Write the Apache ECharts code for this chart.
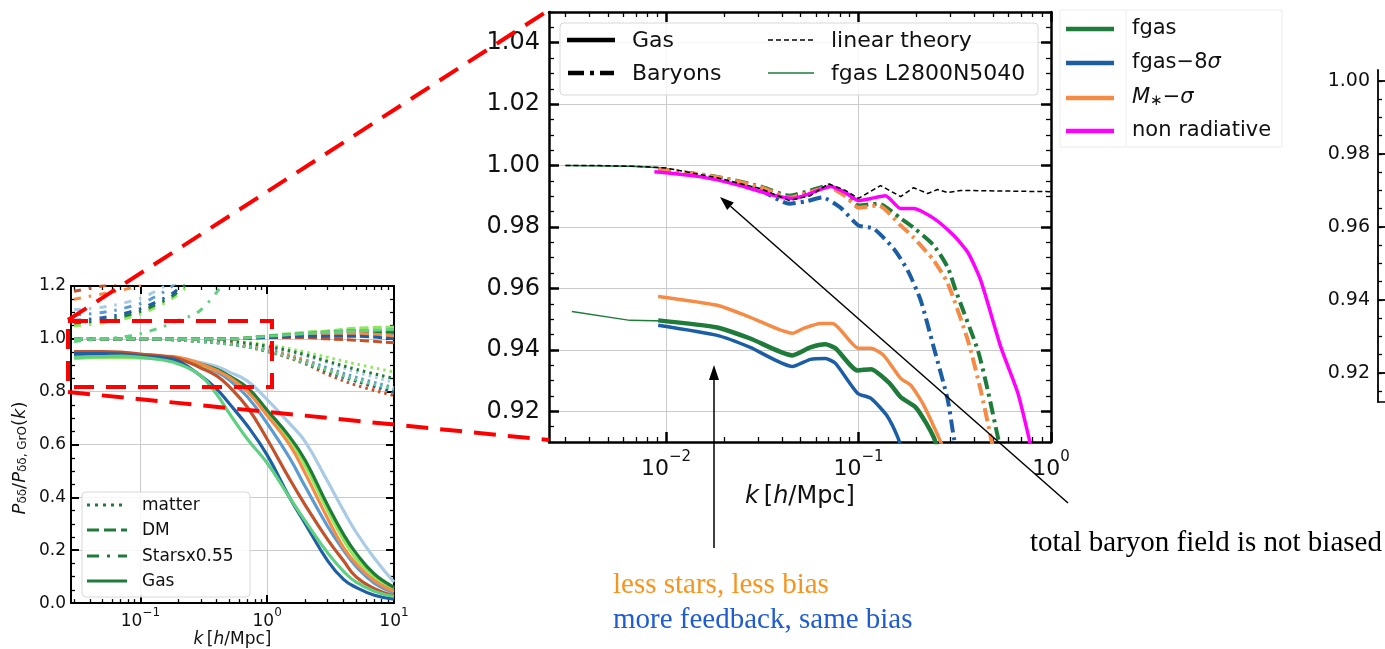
<!DOCTYPE html>
<html><head><meta charset="utf-8">
<script src="https://cdn.jsdelivr.net/npm/echarts@6/dist/echarts.min.js"></script>
<style>html,body{margin:0;padding:0;background:#fff}#c{width:1385px;height:649px}</style>
</head><body><div id="c"></div>
<script>
// ================= DATA =================
// ---- Zoomed panel (middle): ratio vs k [h/Mpc]
const linTheoryK = [0.0030,0.0045,0.0073,0.0100,0.0182,0.0309,0.0438,0.0562,0.0698,0.0855,0.100,0.130,0.1656,0.193,0.2288,0.2575,0.291,0.340,1.0];
const linTheoryV = [1.0000,1.0000,0.9997,0.9992,0.9961,0.9925,0.9886,0.9902,0.9941,0.9919,0.9893,0.9935,0.9899,0.9928,0.9909,0.9922,0.9912,0.9919,0.9915];

const l2800BarK = [0.0030,0.0065,0.0100];
const l2800BarV = [1.0000,0.9998,0.9992];
const l2800GasK = [0.00324,0.00649,0.0100];
const l2800GasV = [0.9525,0.9496,0.9494];

const fgasBarK = [0.0091,0.0182,0.0309,0.0438,0.0562,0.0698,0.0855,0.100,0.127,0.1656,0.193,0.246,0.291,0.320,0.417,0.4695,0.530,0.56];
const fgasBarV = [0.9988,0.9964,0.9932,0.9902,0.9919,0.9935,0.9906,0.9870,0.9876,0.9828,0.9798,0.9740,0.9668,0.9593,0.9398,0.9268,0.9115,0.905];
const mstarBarK = [0.0091,0.0182,0.0309,0.0438,0.0562,0.0698,0.0855,0.100,0.127,0.1656,0.193,0.246,0.291,0.370,0.4315,0.487,0.52];
const mstarBarV = [0.9988,0.9963,0.9930,0.9896,0.9914,0.9930,0.9900,0.9863,0.9870,0.9805,0.9766,0.9691,0.9616,0.9431,0.9268,0.9115,0.903];
const fgas8BarK = [0.0091,0.0182,0.0309,0.04375,0.053,0.0649,0.0806,0.100,0.1197,0.152,0.180,0.2104,0.246,0.291,0.3126,0.33];
const fgas8BarV = [0.9988,0.9961,0.9919,0.9876,0.9883,0.9896,0.9863,0.9805,0.9795,0.9730,0.9659,0.9561,0.9408,0.9236,0.9115,0.905];
const nonradK = [0.0087,0.0150,0.0243,0.0348,0.0458,0.0562,0.0715,0.0855,0.100,0.116,0.138,0.1656,0.193,0.246,0.3126,0.370,0.4315,0.5495,0.673,0.767,0.80];
const nonradV = [0.9980,0.9964,0.9935,0.9906,0.9893,0.9909,0.9932,0.9912,0.9886,0.9893,0.9902,0.9860,0.9860,0.9828,0.9772,0.9717,0.9626,0.9408,0.9259,0.9115,0.906];

const fgasGasK = [0.0091,0.01845,0.02738,0.0453,0.0562,0.0673,0.0759,0.0988,0.116,0.145,0.1656,0.198,0.2235,0.246,0.26];
const fgasGasV = [0.9496,0.9473,0.9437,0.9382,0.9408,0.9418,0.9405,0.9333,0.9337,0.9291,0.9246,0.9213,0.9164,0.9115,0.907];
const mstarGasK = [0.0091,0.01845,0.02738,0.0453,0.0518,0.0634,0.0733,0.100,0.116,0.135,0.1656,0.1867,0.218,0.261,0.28];
const mstarGasV = [0.9574,0.9545,0.9506,0.9454,0.9470,0.9486,0.9486,0.9405,0.9405,0.9382,0.9307,0.9285,0.9220,0.9115,0.907];
const fgas8GasK = [0.0091,0.01845,0.02738,0.0453,0.0562,0.0673,0.0759,0.0988,0.116,0.140,0.160,0.17];
const fgas8GasV = [0.9480,0.9447,0.9408,0.9346,0.9369,0.9372,0.9356,0.9259,0.9242,0.9187,0.9115,0.906];

const mainXTicks = [0.01, 0.1, 1];
const mainXExp = ['\u22122', '\u22121', '0'];
const mainYTicks = [0.92, 0.94, 0.96, 0.98, 1.00, 1.02, 1.04];

// ---- Left overview panel
const leftGasK = [0.03,0.05,0.07,0.1,0.15,0.2,0.3,0.4,0.5,0.7,1.0,1.5,2,3,4,5,7,10];
const gasDarkBlue  = [0.944,0.944,0.942,0.935,0.928,0.915,0.86,0.81,0.756,0.67,0.56,0.40,0.30,0.16,0.09,0.06,0.03,0.015];
const gasSeaGreen  = [0.930,0.933,0.935,0.930,0.920,0.905,0.86,0.79,0.72,0.62,0.53,0.40,0.31,0.19,0.12,0.08,0.045,0.025];
const gasBrick     = [0.952,0.952,0.950,0.942,0.935,0.925,0.89,0.86,0.82,0.74,0.62,0.47,0.37,0.24,0.16,0.10,0.055,0.028];
const gasMidBlue   = [0.940,0.943,0.940,0.935,0.930,0.925,0.90,0.875,0.845,0.78,0.68,0.55,0.44,0.29,0.20,0.14,0.075,0.04];
const gasOrange    = [0.945,0.948,0.945,0.940,0.935,0.930,0.905,0.88,0.855,0.80,0.71,0.60,0.49,0.32,0.21,0.15,0.085,0.045];
const gasLime      = [0.925,0.930,0.930,0.928,0.925,0.920,0.90,0.88,0.86,0.81,0.72,0.62,0.52,0.35,0.24,0.17,0.10,0.055];
const gasDarkGreen = [0.940,0.945,0.940,0.935,0.930,0.925,0.905,0.885,0.86,0.815,0.73,0.63,0.54,0.37,0.26,0.19,0.11,0.06];
const gasLightBlue = [0.935,0.940,0.940,0.935,0.930,0.928,0.91,0.895,0.875,0.84,0.77,0.68,0.61,0.46,0.35,0.27,0.17,0.08];

const leftDmK = [0.03,0.1,0.3,0.5,1,2,3,5,10];
const dmDarkBlue  = [1.0,1.0,1.0,1.0,1.005,1.010,1.010,1.010,1.000];
const dmSeaGreen  = [1.0,1.0,1.0,1.0,1.010,1.020,1.025,1.030,1.035];
const dmBrick     = [1.0,1.0,1.0,1.0,1.005,1.005,1.000,0.995,0.985];
const dmMidBlue   = [1.0,1.0,1.0,1.0,1.008,1.015,1.020,1.020,1.015];
const dmOrange    = [1.0,1.0,1.0,1.0,1.008,1.015,1.020,1.020,1.010];
const dmLime      = [1.0,1.0,1.0,1.0,1.012,1.025,1.030,1.040,1.045];
const dmDarkGreen = [1.0,1.0,1.0,1.0,1.010,1.020,1.025,1.030,1.025];
const dmLightBlue = [1.0,1.0,1.0,1.0,1.010,1.020,1.025,1.030,1.030];

const leftMatK = [0.03,0.1,0.3,0.5,1,2,3,5,10];
const matDarkBlue  = [1.0,1.0,0.990,0.980,0.955,0.910,0.875,0.840,0.800];
const matSeaGreen  = [1.0,1.0,0.990,0.980,0.955,0.910,0.880,0.845,0.810];
const matBrick     = [1.0,1.0,0.990,0.980,0.952,0.905,0.865,0.825,0.785];
const matMidBlue   = [1.0,1.0,0.992,0.983,0.960,0.920,0.890,0.855,0.815];
const matOrange    = [1.0,1.0,0.990,0.982,0.958,0.915,0.880,0.840,0.790];
const matLime      = [1.0,1.0,0.997,0.992,0.978,0.950,0.930,0.905,0.875];
const matDarkGreen = [1.0,1.0,0.995,0.990,0.972,0.940,0.915,0.885,0.850];
const matLightBlue = [1.0,1.0,0.995,0.988,0.968,0.935,0.910,0.875,0.835];

const leftStarK = [0.03,0.05,0.08,0.12,0.2,0.3,0.5];
const starDarkBlue  = [1.07,1.08,1.10,1.13,1.19,1.30,1.45];
const starSeaGreen  = [0.99,1.00,1.01,1.03,1.07,1.11,1.24];
const starBrick     = [1.18,1.20,1.22,1.26,1.33,1.45,1.60];
const starMidBlue   = [1.09,1.10,1.12,1.15,1.22,1.32,1.48];
const starOrange    = [1.15,1.17,1.19,1.22,1.30,1.40,1.55];
const starLime      = [1.05,1.06,1.08,1.11,1.17,1.26,1.40];
const starDarkGreen = [1.06,1.07,1.09,1.12,1.18,1.28,1.42];
const starLightBlue = [1.11,1.12,1.14,1.17,1.24,1.35,1.50];

const leftXTicks = [0.1, 1, 10];
const leftXExp = ['\u22121', '0', '1'];

// ---- Right partial panel
const rightYTicks = [0.92, 0.94, 0.96, 0.98, 1.00];

// ================= BUILD =================
const FONT = 'DejaVu Sans';
const SERIF = 'Liberation Serif';
const C = {green:'#1e7b3a', blue:'#1c5ea6', orange:'#f58b45', magenta:'#ff00ff'};
const LC = {darkBlue:'#1f5fa5', seaGreen:'#5fcf80', brick:'#c2522b', midBlue:'#5c9bd1',
            orange:'#f58b45', lime:'#8fe85c', darkGreen:'#1e7b3a', lightBlue:'#a9cbe6'};

function pairs(k, v) { return k.map((x, i) => [x, v[i]]); }
const series = [];
function addLine(xi, yi, data, color, width, type, z, smooth) {
  series.push({type:'line', xAxisIndex:xi, yAxisIndex:yi, data:data, symbol:'none', silent:true,
    animation:false, clip:true, z:z || 2, smooth:smooth || false,
    lineStyle:{color:color, width:width, type:type || 'solid', cap:'butt', join:'round'}});
}

// left panel series
const DOT = [2.5, 4], DASH = [9, 4], DASHDOT = [7, 8, 2.5, 8];
const leftSets = [
  ['lightBlue', gasLightBlue, dmLightBlue, matLightBlue, starLightBlue],
  ['midBlue', gasMidBlue, dmMidBlue, matMidBlue, starMidBlue],
  ['lime', gasLime, dmLime, matLime, starLime],
  ['darkGreen', gasDarkGreen, dmDarkGreen, matDarkGreen, starDarkGreen],
  ['orange', gasOrange, dmOrange, matOrange, starOrange],
  ['brick', gasBrick, dmBrick, matBrick, starBrick],
  ['darkBlue', gasDarkBlue, dmDarkBlue, matDarkBlue, starDarkBlue],
  ['seaGreen', gasSeaGreen, dmSeaGreen, matSeaGreen, starSeaGreen]
];
leftSets.forEach(s => {
  const col = LC[s[0]];
  addLine(0, 0, pairs(leftMatK, s[3]), col, 3, DOT, 2, 0.4);
  addLine(0, 0, pairs(leftDmK, s[2]), col, 3, DASH, 2, 0.4);
  addLine(0, 0, pairs(leftStarK, s[4]), col, 3, DASHDOT, 2, 0.4);
});
leftSets.forEach(s => { addLine(0, 0, pairs(leftGasK, s[1]), LC[s[0]], 3.2, 'solid', 3, 0.45); });

// main panel series
const MDD = [13, 5, 3, 5];
addLine(4, 2, pairs(l2800BarK, l2800BarV), C.green, 1.5, 'solid');
addLine(4, 2, pairs(l2800GasK, l2800GasV), C.green, 1.5, 'solid');
addLine(4, 2, pairs(fgasGasK, fgasGasV), C.green, 4.5, 'solid', 3, 0.2);
addLine(4, 2, pairs(fgas8GasK, fgas8GasV), C.blue, 3.5, 'solid', 3, 0.2);
addLine(4, 2, pairs(mstarGasK, mstarGasV), C.orange, 3.5, 'solid', 3, 0.2);
addLine(4, 2, pairs(fgasBarK, fgasBarV), C.green, 4, MDD, 3, 0.2);
addLine(4, 2, pairs(fgas8BarK, fgas8BarV), C.blue, 4, MDD, 3, 0.2);
addLine(4, 2, pairs(mstarBarK, mstarBarV), C.orange, 4, MDD, 3, 0.2);
addLine(4, 2, pairs(nonradK, nonradV), C.magenta, 3.5, 'solid', 4, 0.2);
addLine(4, 2, pairs(linTheoryK, linTheoryV), '#000', 1.5, [5, 3], 5);

// minor tick positions (no labels)
function logMinor(d0, d1) { const a = []; for (let d = d0; d <= d1; d++) for (let m = 2; m <= 9; m++) a.push(m * Math.pow(10, d)); return a; }
function linMinor(a, b, st) { const r = []; for (let v = a; v <= b + 1e-9; v += st) r.push(+v.toFixed(4)); return r; }
const leftXMinor = logMinor(-2, 0).filter(v => v > 0.0284 && v < 10);
const mainXMinor = logMinor(-3, -1).filter(v => v > 0.00246 && v < 1);
const mainYMinor = linMinor(0.91, 1.05, 0.005);
const rightYMinor = linMinor(0.915, 1.0, 0.005);

const expRich = (fs) => ({b:{fontFamily:FONT, fontSize:fs, color:'#111', padding:[Math.round(fs*0.35),0,0,0]},
                          s:{fontFamily:FONT, fontSize:Math.round(fs*0.7), color:'#111', verticalAlign:'top'}});
function logLabelFmt(ticks, exps) { return v => { let i = ticks.findIndex(t => Math.abs(Math.log10(t) - Math.log10(v)) < 1e-6); return i < 0 ? '' : '{b|10}{s|' + exps[i] + '}'; }; }

const L_XMIN = 0.02838, L_XMAX = 10, M_XMIN = 0.002465, M_XMAX = 1.0;
function xAx(gi, min, max, pos, major, ticks, labelOpt, len, lw, split) {
  return {gridIndex:gi, type:'log', min:min, max:max, position:pos,
    axisLine:{show:major, lineStyle:{color:'#000', width:lw}},
    axisTick:{show:true, inside:true, length:len, customValues:ticks, lineStyle:{color:'#000', width:major ? lw : 1.3}},
    axisLabel:labelOpt || {show:false},
    splitLine:{show:!!split, lineStyle:{color:'#cacaca', width:1}},
    minorTick:{show:false}};
}
const xAxes = [
  xAx(0, L_XMIN, L_XMAX, 'bottom', true, leftXTicks,
      {show:true, customValues:leftXTicks, margin:4, formatter:logLabelFmt(leftXTicks, leftXExp), rich:expRich(17)}, 8, 2, true),
  xAx(0, L_XMIN, L_XMAX, 'bottom', false, leftXMinor, null, 4, 1.3, false),
  xAx(0, L_XMIN, L_XMAX, 'top', true, leftXTicks, null, 8, 2, false),
  xAx(0, L_XMIN, L_XMAX, 'top', false, leftXMinor, null, 4, 1.3, false),
  xAx(1, M_XMIN, M_XMAX, 'bottom', true, mainXTicks,
      {show:true, customValues:mainXTicks, margin:8, formatter:logLabelFmt(mainXTicks, mainXExp), rich:expRich(22)}, 10, 2.5, true),
  xAx(1, M_XMIN, M_XMAX, 'bottom', false, mainXMinor, null, 5, 1.5, false),
  xAx(1, M_XMIN, M_XMAX, 'top', true, mainXTicks, null, 10, 2.5, false),
  xAx(1, M_XMIN, M_XMAX, 'top', false, mainXMinor, null, 5, 1.5, false),
  {gridIndex:2, type:'value', min:0, max:1, position:'bottom', axisLine:{show:true, lineStyle:{color:'#000', width:1.5}},
   axisTick:{show:false}, axisLabel:{show:false}, splitLine:{show:false}}
];
xAxes[0].name = '{i|k}{n|\u2009[}{i|h}{n|/Mpc]}';
xAxes[0].nameLocation = 'middle'; xAxes[0].nameGap = 26;
xAxes[0].nameTextStyle = {rich:{i:{fontFamily:FONT, fontStyle:'italic', fontSize:17, color:'#111'}, n:{fontFamily:FONT, fontSize:17, color:'#111'}}};
xAxes[4].name = '{i|k}{n|\u2009[}{i|h}{n|/Mpc]}';
xAxes[4].nameLocation = 'middle'; xAxes[4].nameGap = 43;
xAxes[4].nameTextStyle = {rich:{i:{fontFamily:FONT, fontStyle:'italic', fontSize:24, color:'#111'}, n:{fontFamily:FONT, fontSize:24, color:'#111'}}};

function yAx(gi, min, max, pos, major, ticks, labelOpt, len, lw, split) {
  return {gridIndex:gi, type:'value', min:min, max:max, position:pos,
    axisLine:{show:major, lineStyle:{color:'#000', width:lw}},
    axisTick:{show:true, inside:true, length:len, customValues:ticks, lineStyle:{color:'#000', width:major ? lw : 1.3}},
    axisLabel:labelOpt || {show:false},
    splitLine:{show:!!split, lineStyle:{color:'#cacaca', width:1}}};
}
const yAxes = [
  {gridIndex:0, type:'value', min:0, max:1.2, interval:0.2, position:'left',
   axisLine:{show:true, lineStyle:{color:'#000', width:2}},
   axisTick:{show:true, inside:true, length:8, lineStyle:{color:'#000', width:2}},
   minorTick:{show:true, splitNumber:4, length:4, lineStyle:{color:'#000', width:1.3}},
   axisLabel:{show:true, margin:5, fontFamily:FONT, fontSize:17, color:'#111', formatter:v => v.toFixed(1)},
   splitLine:{show:true, lineStyle:{color:'#cacaca', width:1}}},
  {gridIndex:0, type:'value', min:0, max:1.2, interval:0.2, position:'right',
   axisLine:{show:true, lineStyle:{color:'#000', width:2}},
   axisTick:{show:true, inside:true, length:8, lineStyle:{color:'#000', width:2}},
   minorTick:{show:true, splitNumber:4, length:4, lineStyle:{color:'#000', width:1.3}},
   axisLabel:{show:false}, splitLine:{show:false}},
  yAx(1, 0.91, 1.05, 'left', true, mainYTicks,
      {show:true, customValues:mainYTicks, margin:9, fontFamily:FONT, fontSize:24, color:'#111', formatter:v => v.toFixed(2)}, 10, 2.5, true),
  yAx(1, 0.91, 1.05, 'left', false, mainYMinor, null, 5, 1.5, false),
  yAx(1, 0.91, 1.05, 'right', true, mainYTicks, null, 10, 2.5, false),
  yAx(1, 0.91, 1.05, 'right', false, mainYMinor, null, 5, 1.5, false),
  yAx(2, 0.912, 1.003, 'left', true, rightYTicks,
      {show:true, customValues:rightYTicks, margin:8, fontFamily:FONT, fontSize:19, color:'#111', formatter:v => v.toFixed(2)}, 8, 1.8, false),
  yAx(2, 0.912, 1.003, 'left', false, rightYMinor, null, 4, 1.2, false)
];
// empty series so the right panel axes render
series.push({type:'line', xAxisIndex:8, yAxisIndex:6, data:[], symbol:'none'});
series.push({type:'line', xAxisIndex:8, yAxisIndex:7, data:[], symbol:'none'});

// ---------- graphics ----------
const G = [];
const txt = (x, y, text, opt) => G.push(Object.assign({type:'text', x:x, y:y, z:100,
  style:Object.assign({text:text, fontFamily:FONT, fontSize:22, fill:'#111', verticalAlign:'middle'}, opt || {})}));
const seg = (x1, y1, x2, y2, stroke, w, dash, z) => G.push({type:'line', z:z || 100,
  shape:{x1:x1, y1:y1, x2:x2, y2:y2}, style:{stroke:stroke, lineWidth:w, lineDash:dash || null}});

// main-panel legend
G.push({type:'rect', z:90, shape:{x:560, y:23, width:478, height:72, r:4}, style:{fill:'rgba(255,255,255,0.85)', stroke:'#d8d8d8', lineWidth:1}});
seg(567, 40, 615, 40, '#000', 4.5, null, 101);
seg(568, 73, 614, 73, '#000', 4.5, [16, 6, 4, 6], 101);
seg(768, 40, 814, 40, '#000', 1.5, [5, 3], 101);
seg(768, 73, 814, 73, C.green, 1.5, null, 101);
txt(632, 41, 'Gas'); txt(632, 74, 'Baryons'); txt(831, 41, 'linear theory'); txt(831, 74, 'fgas L2800N5040');

// outside legend
G.push({type:'rect', z:90, shape:{x:1060, y:10, width:222, height:137}, style:{fill:'#fff', stroke:'#ececec', lineWidth:1}});
seg(1126, 10, 1126, 147, '#eeeeee', 1, null, 91);
[[29, C.green], [63, C.blue], [98, C.orange], [131, C.magenta]].forEach(r => seg(1066, r[0], 1114, r[0], r[1], 4.5, null, 101));
txt(1132, 29, 'fgas', {fontSize:21});
G.push({type:'text', x:1132, y:63, z:100, style:{text:'{n|fgas\u22128}{i|\u03c3}', verticalAlign:'middle',
  rich:{n:{fontFamily:FONT, fontSize:21, fill:'#111'}, i:{fontFamily:FONT, fontStyle:'italic', fontSize:21, fill:'#111'}}}});
G.push({type:'text', x:1132, y:98, z:100, style:{text:'{i|M}{s|\u2217}{n|\u2212}{i|\u03c3}', verticalAlign:'middle',
  rich:{n:{fontFamily:FONT, fontSize:21, fill:'#111'}, i:{fontFamily:FONT, fontStyle:'italic', fontSize:21, fill:'#111'},
        s:{fontFamily:FONT, fontSize:15, fill:'#111', verticalAlign:'bottom'}}}});
txt(1132, 131, 'non radiative', {fontSize:21});

// left-panel legend
G.push({type:'rect', z:90, shape:{x:82, y:492, width:168, height:105, r:4}, style:{fill:'rgba(255,255,255,0.85)', stroke:'#d8d8d8', lineWidth:1}});
seg(87, 505, 127, 505, LC.darkGreen, 3, [3, 5], 101);
seg(87, 530, 127, 530, LC.darkGreen, 3, [12, 5], 101);
seg(87, 556, 127, 556, LC.darkGreen, 3, [12, 8, 3, 8], 101);
seg(87, 581, 127, 581, LC.darkGreen, 3, null, 101);
txt(142, 506, 'matter', {fontSize:17}); txt(142, 531, 'DM', {fontSize:17});
txt(142, 557, 'Starsx0.55', {fontSize:17}); txt(142, 582, 'Gas', {fontSize:17});

// left-panel y label (rotated)
G.push({type:'text', x:20, y:458, rotation:Math.PI / 2, z:100,
  style:{text:'{i|P}{s|\u03b4\u03b4}{n|/}{i|P}{s|\u03b4\u03b4, GrO}{n|(}{i|k}{n|)}', align:'center', verticalAlign:'middle',
    rich:{i:{fontFamily:FONT, fontStyle:'italic', fontSize:18, fill:'#111'}, n:{fontFamily:FONT, fontSize:18, fill:'#111'},
          s:{fontFamily:FONT, fontSize:12, fill:'#111', verticalAlign:'bottom'}}}});

// red zoom indicator
G.push({type:'rect', z:110, shape:{x:68, y:321, width:204, height:66}, style:{fill:'none', stroke:'#ff0000', lineWidth:4, lineDash:[20, 12]}});
seg(68, 320, 549, 10, '#ff0000', 4, [22, 12], 110);
seg(68, 392, 549, 440, '#ff0000', 4, [22, 12], 110);

// black arrows
seg(1068, 503, 730.5, 206.2, '#000', 1.5, null, 120);
G.push({type:'polygon', z:120, shape:{points:[[720, 197], [733.8, 202.4], [727.2, 210.0]]}, style:{fill:'#000'}});
seg(714, 548, 714, 379, '#000', 1.5, null, 120);
G.push({type:'polygon', z:120, shape:{points:[[714, 365], [709, 380], [719, 380]]}, style:{fill:'#000'}});

// annotations
txt(1030, 543, 'total baryon field is not biased', {fontFamily:SERIF, fontSize:29, fill:'#000'});
txt(613, 585, 'less stars, less bias', {fontFamily:SERIF, fontSize:29, fill:'#f7941d'});
txt(613, 620, 'more feedback, same bias', {fontFamily:SERIF, fontSize:29, fill:'#1f5bd1'});

const chart = echarts.init(document.getElementById('c'), null, {renderer:'canvas'});
chart.setOption({
  animation:false,
  backgroundColor:'#fff',
  grid:[
    {left:71, top:286, width:323, height:320, containLabel:false},
    {left:549, top:12, width:502, height:430, containLabel:false},
    {left:1378, top:70, width:40, height:332, containLabel:false}
  ],
  xAxis:xAxes,
  yAxis:yAxes,
  series:series,
  graphic:G
});
</script></body></html>
